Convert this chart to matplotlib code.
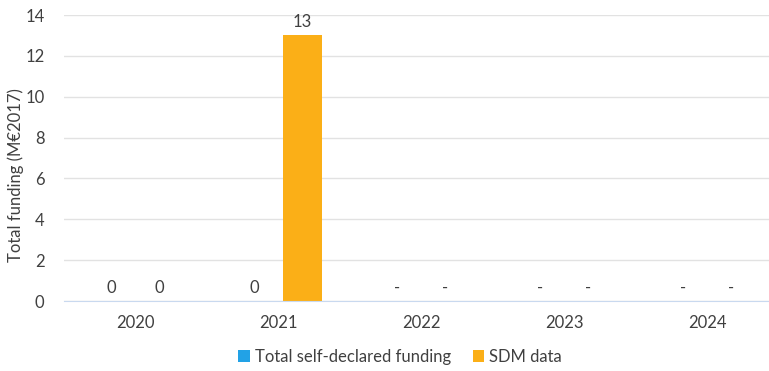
import matplotlib.pyplot as plt
import numpy as np

years = ['2020', '2021', '2022', '2023', '2024']
self_declared = [0, 0, 0, 0, 0]
sdm = [0, 13, 0, 0, 0]
self_labels = ['0', '0', '-', '-', '-']
sdm_labels = ['0', '13', '-', '-', '-']

plt.rcParams['font.family'] = ['Lato', 'DejaVu Sans']
txt = '#404040'
fs = 12

fig = plt.figure(figsize=(7.69, 3.71), dpi=100)
ax = fig.add_axes([64/769, 70/371, 715/769, 286/371])

x = np.arange(len(years))
w = 0.27
off = 0.168
b1 = ax.bar(x - off, self_declared, w, color='#22A2E6', label='Total self-declared funding')
b2 = ax.bar(x + off, sdm, w, color='#FBAF17', label='SDM data')

for i in range(len(years)):
    ax.text(x[i] - off, self_declared[i] + 0.25, self_labels[i], ha='center', va='bottom',
            fontsize=fs, color=txt)
    ax.text(x[i] + off, sdm[i] + 0.25, sdm_labels[i], ha='center', va='bottom',
            fontsize=fs, color=txt)

ax.set_ylim(0, 14)
ax.set_yticks(range(0, 15, 2))
ax.set_xlim(-0.5, 4.5)
ax.set_xticks(x)
ax.set_xticklabels(years)
ax.tick_params(axis='both', length=0, labelsize=fs, colors=txt)
ax.tick_params(axis='x', pad=10)
ax.tick_params(axis='y', pad=14)
ax.grid(axis='y', color='#e2e2e2', linewidth=1)
ax.set_axisbelow(True)
for s in ['top', 'right', 'left']:
    ax.spines[s].set_visible(False)
ax.spines['bottom'].set_color('#c9d9ef')
ax.set_ylabel('Total funding (M€2017)', fontsize=fs, color=txt, va='center')
ax.yaxis.set_label_coords(-(64 - 16) / 715, 0.44)

fig.legend(handles=[b1, b2], loc='center', bbox_to_anchor=(400/769, 1 - 357/371), ncol=2,
           frameon=False, fontsize=fs, handlelength=0.7, handleheight=0.7,
           handletextpad=0.3, columnspacing=1.3, labelcolor=txt)

fig.savefig('out.png', dpi=100)
